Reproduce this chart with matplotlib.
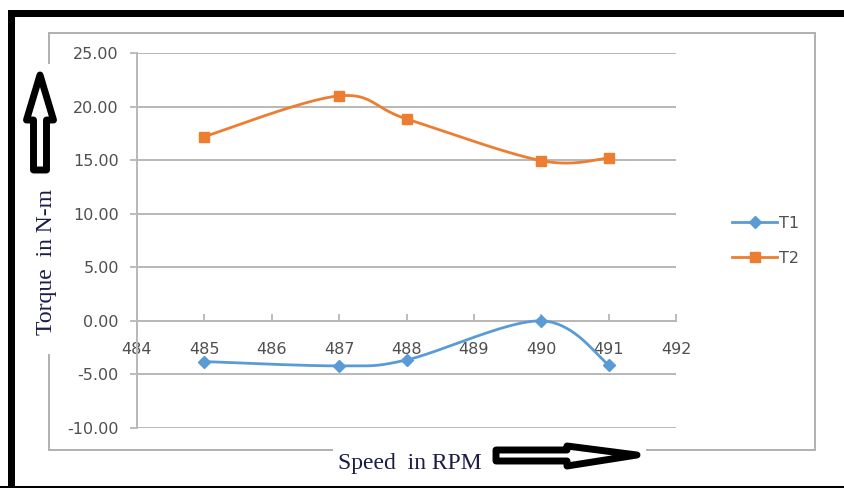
import numpy as np
import matplotlib
matplotlib.use("Agg")
import matplotlib.pyplot as plt
from matplotlib.patches import Rectangle, Polygon
from matplotlib.lines import Line2D
from matplotlib.ticker import FuncFormatter

# Measured torque values against shaft speed
speed = [485, 487, 488, 490, 491]
t1 = [-3.8, -4.2, -3.65, 0.0, -4.1]
t2 = [17.2, 21.0, 18.85, 14.95, 15.2]
series_names = ["T1", "T2"]
x_ticks = [484, 485, 486, 487, 488, 489, 490, 491, 492]
y_ticks = [-10, -5, 0, 5, 10, 15, 20, 25]

W, H = 844, 488
BLUE = "#5B9BD5"
ORANGE = "#ED7D31"
GRID = "#B8B8B8"
TICKTXT = "#4F4F4F"
NAVY = "#1c1c45"


def px(x, y):
    """Pixel position (from top-left) to figure fraction."""
    return x / W, 1 - y / H


def smooth(xs, ys, n=40):
    """Cubic Bezier smoothing through every point (Catmull-Rom style)."""
    pts = np.column_stack([xs, ys]).astype(float)
    out = []
    for i in range(len(pts) - 1):
        p0 = pts[i - 1] if i > 0 else pts[i]
        p1, p2 = pts[i], pts[i + 1]
        p3 = pts[i + 2] if i + 2 < len(pts) else pts[i + 1]
        c1 = p1 + (p2 - p0) / 6
        c2 = p2 - (p3 - p1) / 6
        t = np.linspace(0, 1, n)[:, None]
        seg = ((1 - t) ** 3) * p1 + 3 * ((1 - t) ** 2) * t * c1 \
            + 3 * (1 - t) * t ** 2 * c2 + t ** 3 * p2
        out.append(seg if i == 0 else seg[1:])
    return np.vstack(out)


fig = plt.figure(figsize=(W / 100, H / 100), dpi=100)
fig.patch.set_facecolor("white")

# Chart frame
x0, y0 = px(49, 450)
x1, y1 = px(815, 33)
fig.add_artist(Rectangle((x0, y0), x1 - x0, y1 - y0, transform=fig.transFigure,
                         facecolor="none", edgecolor="#B0B0B0", lw=1.4, zorder=1))

# Plot area
ax_l, ax_b = px(137, 428)
ax_r, ax_t = px(676, 53)
ax = fig.add_axes([ax_l, ax_b, ax_r - ax_l, ax_t - ax_b])
ax.set_facecolor("none")
ax.set_xlim(484, 492)
ax.set_ylim(-10, 25)

for v in y_ticks:
    ax.axhline(v, color=GRID, lw=1.4, zorder=0)

for s in ("top", "right"):
    ax.spines[s].set_visible(False)
ax.spines["left"].set_color(GRID)
ax.spines["left"].set_linewidth(1.4)
ax.spines["bottom"].set_position(("data", 0))
ax.spines["bottom"].set_color(GRID)
ax.spines["bottom"].set_linewidth(1.4)

ax.set_xticks(x_ticks)
ax.set_yticks(y_ticks)
ax.yaxis.set_major_formatter(FuncFormatter(lambda v, p: f"{v:.2f}"))
ax.tick_params(axis="x", direction="in", length=5, color=GRID, width=1.3,
               labelsize=11.5, labelcolor=TICKTXT, pad=15)
ax.tick_params(axis="y", direction="out", length=5, color=GRID, width=1.3,
               labelsize=11.5, labelcolor=TICKTXT, pad=8)

for ys, col, mk, ms in [(t1, BLUE, "D", 6), (t2, ORANGE, "s", 7)]:
    curve = smooth(speed, ys)
    ax.plot(curve[:, 0], curve[:, 1], color=col, lw=2, zorder=3,
            solid_capstyle="round")
    ax.plot(speed, ys, linestyle="none", marker=mk, markersize=ms,
            color=col, zorder=4)

handles = [Line2D([], [], color=BLUE, lw=2, marker="D", markersize=6),
           Line2D([], [], color=ORANGE, lw=2, marker="s", markersize=7)]
leg = fig.legend(handles, series_names, loc="center left",
                 bbox_to_anchor=px(718, 241), bbox_transform=fig.transFigure,
                 frameon=False, fontsize=11.5, handlelength=2.8,
                 handletextpad=0.1, labelspacing=1.25)
for txt in leg.get_texts():
    txt.set_color(TICKTXT)

# Outer black border (top, left, bottom)
fig.add_artist(Rectangle(px(8, 17), 836 / W, 7 / H, transform=fig.transFigure,
                         facecolor="black", edgecolor="none", zorder=5))
fig.add_artist(Rectangle(px(8, 488), 7 / W, 478 / H, transform=fig.transFigure,
                         facecolor="black", edgecolor="none", zorder=5))
fig.add_artist(Rectangle(px(0, 488), 1, 2.5 / H, transform=fig.transFigure,
                         facecolor="black", edgecolor="none", zorder=5))

# White patches behind the hand-placed axis captions
bx0, by0 = px(17, 354)
bx1, by1 = px(65, 64)
fig.add_artist(Rectangle((bx0, by0), bx1 - bx0, by1 - by0, transform=fig.transFigure,
                         facecolor="white", edgecolor="none", zorder=2))
bx0, by0 = px(333, 478)
bx1, by1 = px(646, 437)
fig.add_artist(Rectangle((bx0, by0), bx1 - bx0, by1 - by0, transform=fig.transFigure,
                         facecolor="white", edgecolor="none", zorder=2))

# Hollow arrows
up = [(40, 75), (53.5, 120), (46.5, 120), (46.5, 170), (33.5, 170),
      (33.5, 120), (26.5, 120)]
fig.add_artist(Polygon([px(*p) for p in up], closed=True, transform=fig.transFigure,
                       facecolor="white", edgecolor="black", lw=5,
                       joinstyle="round", zorder=6))
right = [(496, 450), (567, 450), (567, 446), (637, 455), (567, 466),
         (567, 461), (496, 461)]
fig.add_artist(Polygon([px(*p) for p in right], closed=True, transform=fig.transFigure,
                       facecolor="white", edgecolor="black", lw=5,
                       joinstyle="round", zorder=6))

# Axis captions
fig.text(*px(47, 262), "Torque  in N-m", rotation=90, ha="center", va="center",
         fontsize=17, family="Liberation Serif", color=NAVY, zorder=7)
fig.text(*px(410, 463), "Speed  in RPM", ha="center", va="center",
         fontsize=17, family="Liberation Serif", color=NAVY, zorder=7)

fig.savefig("out.png", dpi=100, facecolor="white")
